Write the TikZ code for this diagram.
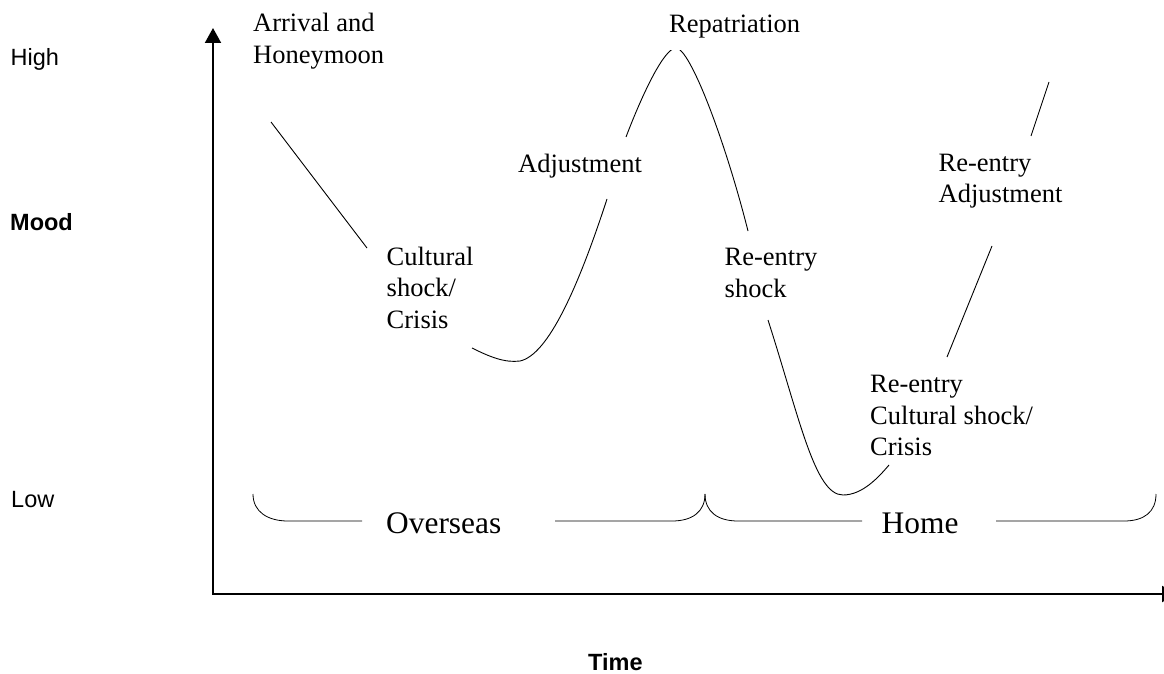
\documentclass[tikz,border=0pt]{standalone}
\usepackage{fontspec}
\setmainfont{Liberation Serif}
\newfontfamily\arialfont{Liberation Sans}
\usetikzlibrary{arrows.meta}
% left-aligned stack of lines whose baseline is that of the first line
\newcommand\labstack[1]{\vtop{\baselineskip=31.5pt\halign{##\hfil\cr#1\crcr}}}

\begin{document}
\begin{tikzpicture}[x=1pt,y=-1pt,
  axis/.style={line width=2pt, line cap=rect, -{Triangle[length=15pt,width=16pt]}},
  curve/.style={line width=0.9pt},
  brace/.style={line width=0.8pt},
  phase/.style={font=\fontsize{26.5}{31.5}\selectfont, anchor=base west, inner sep=0pt},
  scalelabel/.style={font=\arialfont\fontsize{23.5}{28}\selectfont, anchor=base west, inner sep=0pt},
  period/.style={font=\fontsize{31.4}{36}\selectfont, anchor=base west, inner sep=0pt}]

\fill[white] (0,0) rectangle (1164,674);
\useasboundingbox (0,0) rectangle (1164,674);

% axes
\coordinate (O) at (213,594);
\coordinate (ytop) at (213,28);
\coordinate (xend) at (1177,594);
\draw[axis] (O) -- (ytop);
\draw[axis] (O) -- (xend);

% axis labels
\node[scalelabel] (high) at (10.5,66) {High};
\node[scalelabel] (mood) at (10,230) {\bfseries Mood};
\node[scalelabel] (low) at (11,507) {Low};
\node[scalelabel] (time) at (588,670) {\bfseries Time};

% phase labels
\node[phase] (arrival) at (253,32) {\labstack{Arrival and\cr Honeymoon}};
\node[phase] (adjust) at (518,172.5) {Adjustment};
\node[phase] (crisis) at (386.5,265) {\labstack{Cultural\cr shock/\cr Crisis}};
\node[phase] (repat) at (669,32.5) {Repatriation};
\node[phase] (reshock) at (724.5,265.5) {\labstack{Re-entry\cr shock}};
\node[phase] (readjust) at (938.5,171.5) {\labstack{Re-entry\cr Adjustment}};
\node[phase] (recrisis) at (870,392.5) {\labstack{Re-entry\cr Cultural shock/\cr Crisis}};

% mood curve, in pieces between the labels
\draw[curve] (271,122) -- (367,248);
\draw[curve] (472,348) .. controls (490,357) and (505,363) .. (520,361)
             .. controls (548,355) and (578,288) .. (607,199);
\begin{scope}
  \clip (0,50.5) rectangle (1164,674);
  \draw[curve] (626,137) .. controls (642,95) and (664,48) .. (676,48)
               .. controls (690,48) and (725,140) .. (748,231);
\end{scope}
\draw[curve] (768,320) .. controls (800,420) and (815,495) .. (843,495)
             .. controls (862,495) and (878,478) .. (889,465);
\draw[curve] (947,357) -- (992,246);
\draw[curve] (1031,136) -- (1049,82);

% braces for the two periods
\node[period] (overseas) at (386,533) {Overseas};
\node[period] (home) at (881.5,533) {Home};
\draw[brace] (253,494) .. controls (253,512) and (268,521) .. (288,521) -- (362,521);
\draw[brace] (555,521) -- (672,521) .. controls (692,521) and (705,512) .. (705,494);
\draw[brace] (705,494) .. controls (705,512) and (718,521) .. (738,521) -- (862,521);
\draw[brace] (996,521) -- (1124,521) .. controls (1144,521) and (1156,512) .. (1156,494);
\end{tikzpicture}
\end{document}
